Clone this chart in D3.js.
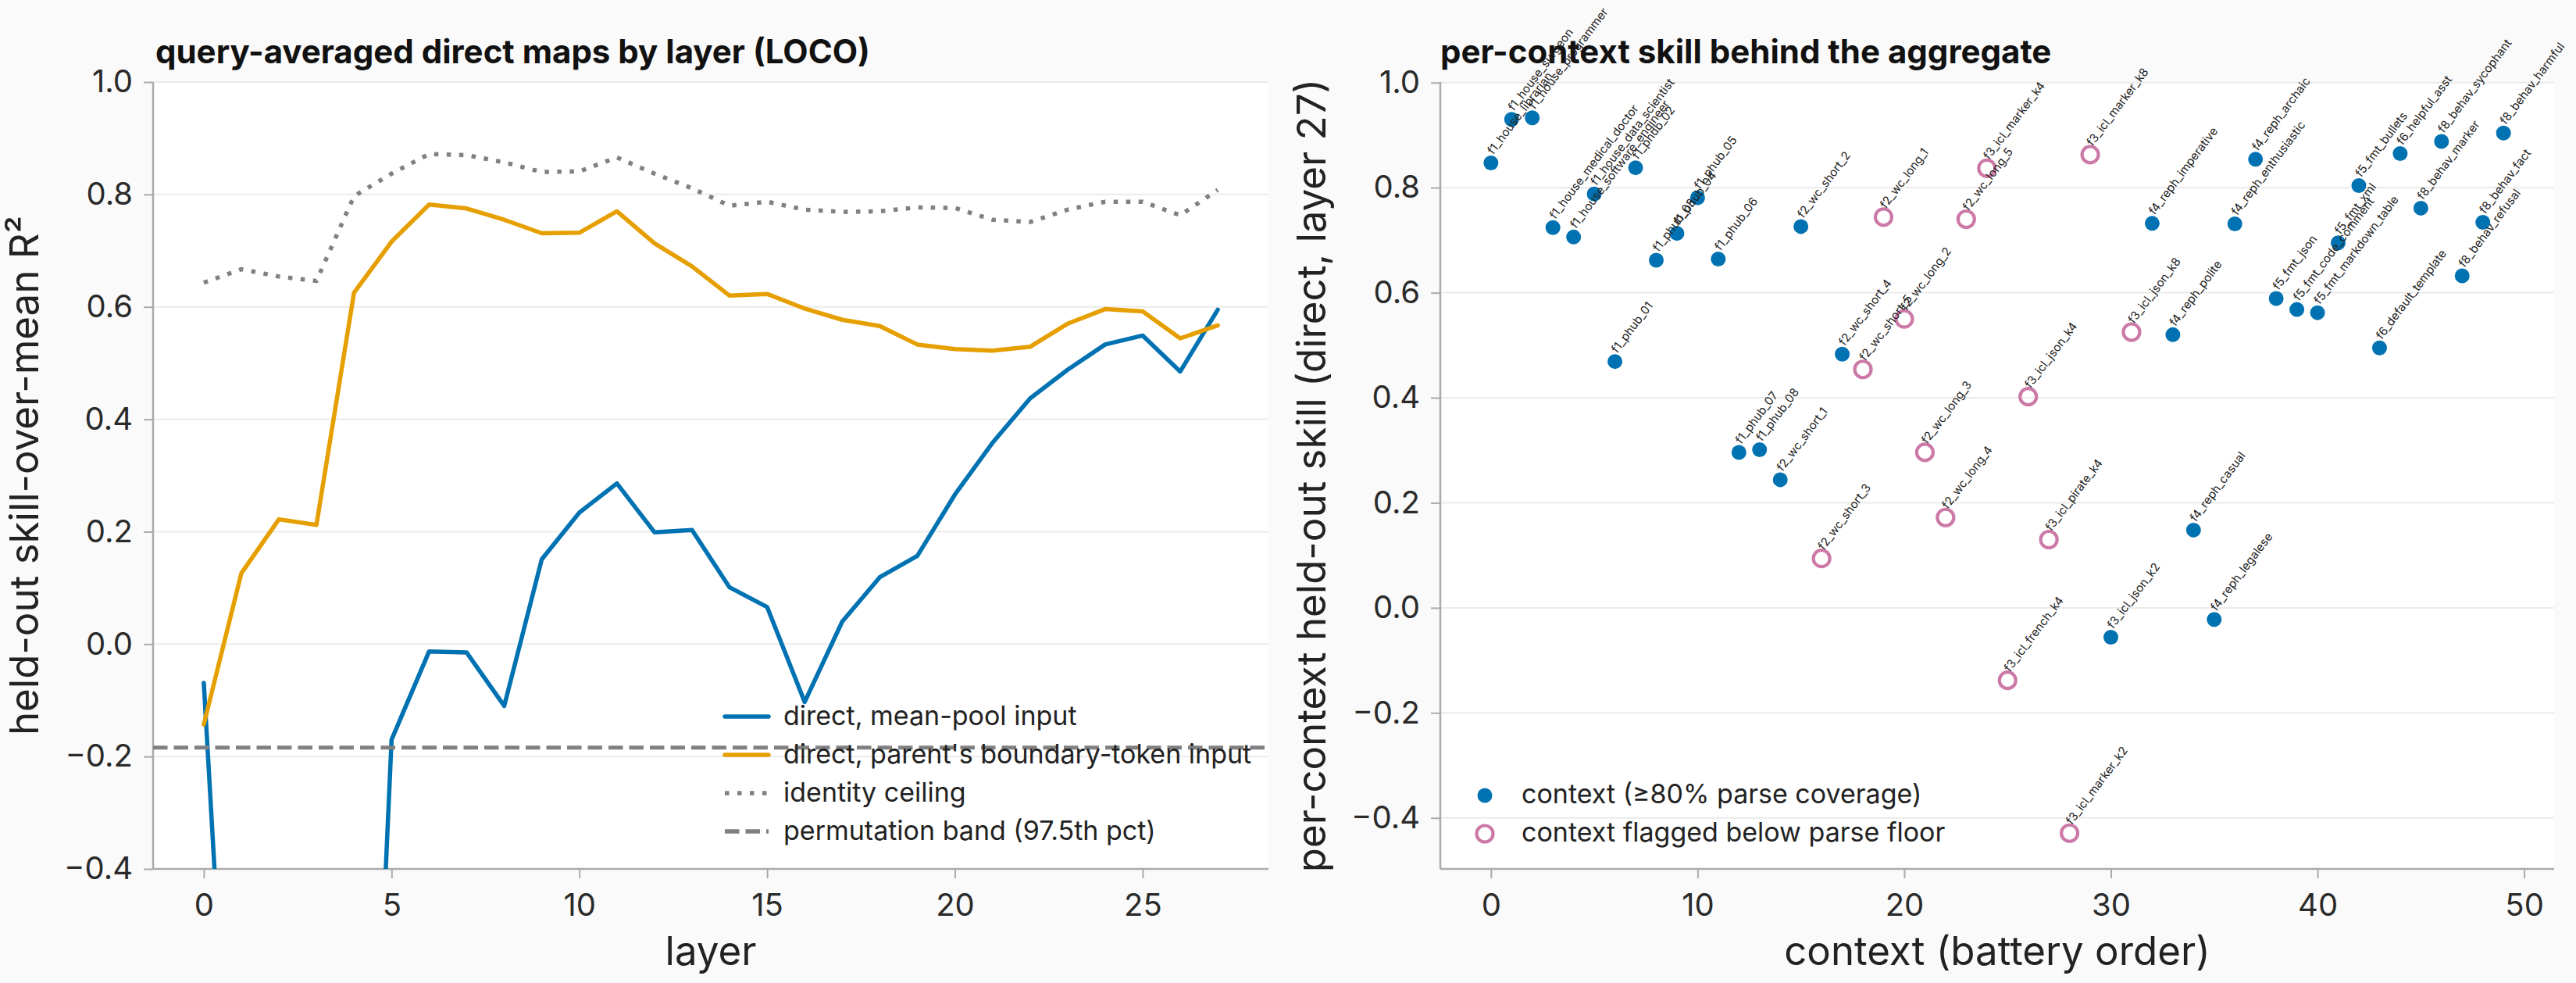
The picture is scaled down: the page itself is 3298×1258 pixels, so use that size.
<!DOCTYPE html>
<html>
<head>
<meta charset="utf-8">
<script src="https://cdn.jsdelivr.net/npm/d3@7"></script>
<style>
  html, body { margin: 0; padding: 0; background: #fafafa; }
  svg { display: block; font-family: Inter, "Noto Sans", sans-serif; }
</style>
</head>
<body>
<svg id="chart" width="3298" height="1258"></svg>
<script>
// ---------------- data ----------------
const layers = [0,1,2,3,4,5,6,7,8,9,10,11,12,13,14,15,16,17,18,19,20,21,22,23,24,25,26,27];
const meanPool = [-0.069,-1.23,-1.45,-1.60,-1.66,-0.170,-0.013,-0.015,-0.110,0.151,0.234,0.286,0.199,0.203,0.101,0.066,-0.103,0.040,0.119,0.157,0.266,0.358,0.437,0.488,0.533,0.549,0.485,0.595];
const boundaryTok = [-0.143,0.126,0.222,0.212,0.625,0.716,0.782,0.775,0.755,0.731,0.732,0.770,0.713,0.672,0.620,0.623,0.597,0.577,0.566,0.533,0.525,0.522,0.529,0.570,0.596,0.592,0.544,0.567];
const identityCeiling = [0.643,0.667,0.654,0.646,0.797,0.837,0.872,0.870,0.857,0.840,0.841,0.866,0.837,0.811,0.780,0.787,0.773,0.769,0.770,0.777,0.776,0.755,0.751,0.773,0.787,0.787,0.763,0.808];
const permutationBand = -0.184;
const seriesNames = ["direct, mean-pool input", "direct, parent's boundary-token input", "identity ceiling", "permutation band (97.5th pct)"];

const contextNames = ["f1_house_librarian","f1_house_surgeon","f1_house_programmer","f1_house_medical_doctor","f1_house_software_engineer","f1_house_data_scientist","f1_phub_01","f1_phub_02","f1_phub_03","f1_phub_04","f1_phub_05","f1_phub_06","f1_phub_07","f1_phub_08","f2_wc_short_1","f2_wc_short_2","f2_wc_short_3","f2_wc_short_4","f2_wc_short_5","f2_wc_long_1","f2_wc_long_2","f2_wc_long_3","f2_wc_long_4","f2_wc_long_5","f3_icl_marker_k4","f3_icl_french_k4","f3_icl_json_k4","f3_icl_pirate_k4","f3_icl_marker_k2","f3_icl_marker_k8","f3_icl_json_k2","f3_icl_json_k8","f4_reph_imperative","f4_reph_polite","f4_reph_casual","f4_reph_legalese","f4_reph_enthusiastic","f4_reph_archaic","f5_fmt_json","f5_fmt_code_comment","f5_fmt_markdown_table","f5_fmt_xml","f5_fmt_bullets","f6_default_template","f6_helpful_asst","f8_behav_marker","f8_behav_sycophant","f8_behav_refusal","f8_behav_fact","f8_behav_harmful"];
const contextSkill = [0.847,0.930,0.933,0.724,0.706,0.788,0.469,0.838,0.662,0.713,0.781,0.664,0.296,0.301,0.244,0.726,0.094,0.483,0.454,0.744,0.550,0.296,0.172,0.740,0.837,-0.138,0.402,0.130,-0.429,0.863,-0.056,0.525,0.732,0.520,0.148,-0.022,0.731,0.854,0.589,0.568,0.562,0.695,0.804,0.495,0.865,0.761,0.888,0.632,0.734,0.904];
const belowParseFloor = [0,0,0,0,0,0,0,0,0,0,0,0,0,0,0,0,1,0,1,1,1,1,1,1,1,1,1,1,1,1,0,1,0,0,0,0,0,0,0,0,0,0,0,0,0,0,0,0,0,0];
const scatterLegend = ["context (\u226580% parse coverage)", "context flagged below parse floor"];

const leftYTicks = [-0.4,-0.2,0.0,0.2,0.4,0.6,0.8,1.0];
const leftXTicks = [0,5,10,15,20,25];
const rightYTicks = [-0.4,-0.2,0.0,0.2,0.4,0.6,0.8,1.0];
const rightXTicks = [0,10,20,30,40,50];

// ---------------- style ----------------
const BLUE = "#0072B2", ORANGE = "#E69F00", PINK = "#CC79A7", GRAY = "#808080";
const SPINE = "#ababab", GRID = "#ebebeb", TXT = "#222";
const svg = d3.select("#chart");
svg.append("rect").attr("width", 3298).attr("height", 1258).attr("fill", "#fafafa");

function pad(ext, f) { const r = ext[1] - ext[0]; return [ext[0] - f * r, ext[1] + f * r]; }
const fmt = d3.format(".1f");

function drawAxes(g, x, y, xTicks, yTicks, xlab, ylab, title, titleDx, yFmt) {
  const [x0, x1] = x.range(), [yb, yt] = y.range();
  g.append("rect").attr("x", x0).attr("y", yt).attr("width", x1 - x0).attr("height", yb - yt).attr("fill", "#fff");
  g.append("g").selectAll("line").data(yTicks).join("line")
    .attr("x1", x0).attr("x2", x1).attr("y1", d => y(d)).attr("y2", d => y(d))
    .attr("stroke", GRID).attr("stroke-width", 2);
  const ax = g.append("g").attr("transform", `translate(0,${yb})`)
    .call(d3.axisBottom(x).tickValues(xTicks).tickFormat(d3.format("d")).tickSize(12).tickPadding(12).tickSizeOuter(0));
  const ay = g.append("g").attr("transform", `translate(${x0},0)`)
    .call(d3.axisLeft(y).tickValues(yTicks).tickFormat(yFmt).tickSize(12).tickPadding(14).tickSizeOuter(0));
  [ax, ay].forEach(a => {
    a.select(".domain").attr("stroke", SPINE).attr("stroke-width", 2.5);
    a.selectAll(".tick line").attr("stroke", SPINE).attr("stroke-width", 2);
    a.selectAll(".tick text").attr("fill", "#2a2a2a").style("font-size", "40px").style("font-family", "Inter");
  });
  ax.select(".domain").attr("d", `M${x0},0H${x1}`);
  ay.select(".domain").attr("d", `M0,${yb}V${yt}`);
  ax.selectAll(".tick text").attr("dy", null).attr("y", 60);
  g.append("text").attr("x", (x0 + x1) / 2).attr("y", 1235).attr("text-anchor", "middle")
    .attr("fill", TXT).style("font-size", "51px").text(xlab);
  g.append("text").attr("transform", `translate(${x0 - 147},${(yb + yt) / 2}) rotate(-90)`)
    .attr("text-anchor", "middle").attr("fill", TXT).style("font-size", "51px").text(ylab);
  g.append("text").attr("x", x0 + titleDx).attr("y", 81).attr("fill", "#111")
    .style("font-size", "42px").style("font-weight", "700").text(title);
}

// ---------------- left panel ----------------
const L = { x0: 196, x1: 1624, yt: 105, yb: 1112 };
const xL = d3.scaleLinear().domain(pad([0, 27], 0.05)).range([L.x0, L.x1]);
const yL = d3.scaleLinear().domain([-0.4, 1.0]).range([L.yb, L.yt]);
const gL = svg.append("g");
drawAxes(gL, xL, yL, leftXTicks, leftYTicks, "layer", "held-out skill-over-mean R\u00B2",
  "query-averaged direct maps by layer (LOCO)", 3, fmt);

svg.append("defs").append("clipPath").attr("id", "clipL").append("rect")
  .attr("x", L.x0).attr("y", L.yt).attr("width", L.x1 - L.x0).attr("height", L.yb - L.yt);
const plotL = gL.append("g").attr("clip-path", "url(#clipL)");
const line = d3.line().x((d, i) => xL(layers[i])).y(d => yL(d));
const lineSpecs = [
  { data: meanPool, color: BLUE, w: 5.5, dash: null },
  { data: boundaryTok, color: ORANGE, w: 5.5, dash: null },
  { data: identityCeiling, color: GRAY, w: 5.5, dash: "5.5,10.5" },
];
lineSpecs.forEach(s => {
  plotL.append("path").attr("d", line(s.data)).attr("fill", "none").attr("stroke", s.color)
    .attr("stroke-width", s.w).attr("stroke-linejoin", "round")
    .attr("stroke-linecap", s.dash ? "butt" : "round")
    .attr("stroke-dasharray", s.dash);
});
plotL.append("line").attr("x1", L.x0).attr("x2", L.x1).attr("y1", yL(permutationBand)).attr("y2", yL(permutationBand))
  .attr("stroke", GRAY).attr("stroke-width", 5).attr("stroke-dasharray", "18.5,8");

// left legend
const legL = gL.append("g");
const legSpecs = [
  { color: BLUE, dash: null }, { color: ORANGE, dash: null },
  { color: GRAY, dash: "5.5,10.5" }, { color: GRAY, dash: "18.5,8" }];
seriesNames.forEach((nm, i) => {
  const cy = 917 + i * 49;
  legL.append("line").attr("x1", 928).attr("x2", 984).attr("y1", cy).attr("y2", cy)
    .attr("stroke", legSpecs[i].color).attr("stroke-width", 5.5)
    .attr("stroke-linecap", legSpecs[i].dash ? "butt" : "round")
    .attr("stroke-dasharray", legSpecs[i].dash);
  legL.append("text").attr("x", 1003).attr("y", cy + 11).attr("fill", TXT)
    .style("font-size", "34px").text(nm);
});

// ---------------- right panel ----------------
const R = { x0: 1844, x1: 3270, yt: 105, yb: 1112 };
const idx = contextSkill.map((d, i) => i);
const xR = d3.scaleLinear().domain(pad([0, contextSkill.length - 1], 0.05)).range([R.x0, R.x1]);
const yR = d3.scaleLinear().domain(pad(d3.extent(contextSkill), 0.05)).range([R.yb, R.yt]);
const gR = svg.append("g");
drawAxes(gR, xR, yR, rightXTicks, rightYTicks, "context (battery order)",
  "per-context held-out skill (direct, layer 27)", "per-context skill behind the aggregate", 0, fmt);

const pts = gR.append("g");
idx.forEach(i => {
  const cx = xR(i), cy = yR(contextSkill[i]);
  if (belowParseFloor[i]) {
    pts.append("circle").attr("cx", cx).attr("cy", cy).attr("r", 10.5)
      .attr("fill", "none").attr("stroke", PINK).attr("stroke-width", 4.2);
  } else {
    pts.append("circle").attr("cx", cx).attr("cy", cy).attr("r", 9.5).attr("fill", BLUE);
  }
});
const labs = gR.append("g");
idx.forEach(i => {
  const cx = xR(i), cy = yR(contextSkill[i]);
  labs.append("text").attr("transform", `translate(${cx + 3},${cy - 10}) rotate(-53)`)
    .attr("fill", "#222").style("font-size", "15px").text(contextNames[i]);
});

// right legend
const legR = gR.append("g");
legR.append("circle").attr("cx", 1901).attr("cy", 1018).attr("r", 9.5).attr("fill", BLUE);
legR.append("circle").attr("cx", 1901).attr("cy", 1067).attr("r", 10.5).attr("fill", "none")
  .attr("stroke", PINK).attr("stroke-width", 4.2);
scatterLegend.forEach((t, i) => {
  legR.append("text").attr("x", 1948).attr("y", 1018 + i * 49 + 9.5).attr("fill", TXT)
    .style("font-size", "34px").text(t);
});
</script>
</body>
</html>
